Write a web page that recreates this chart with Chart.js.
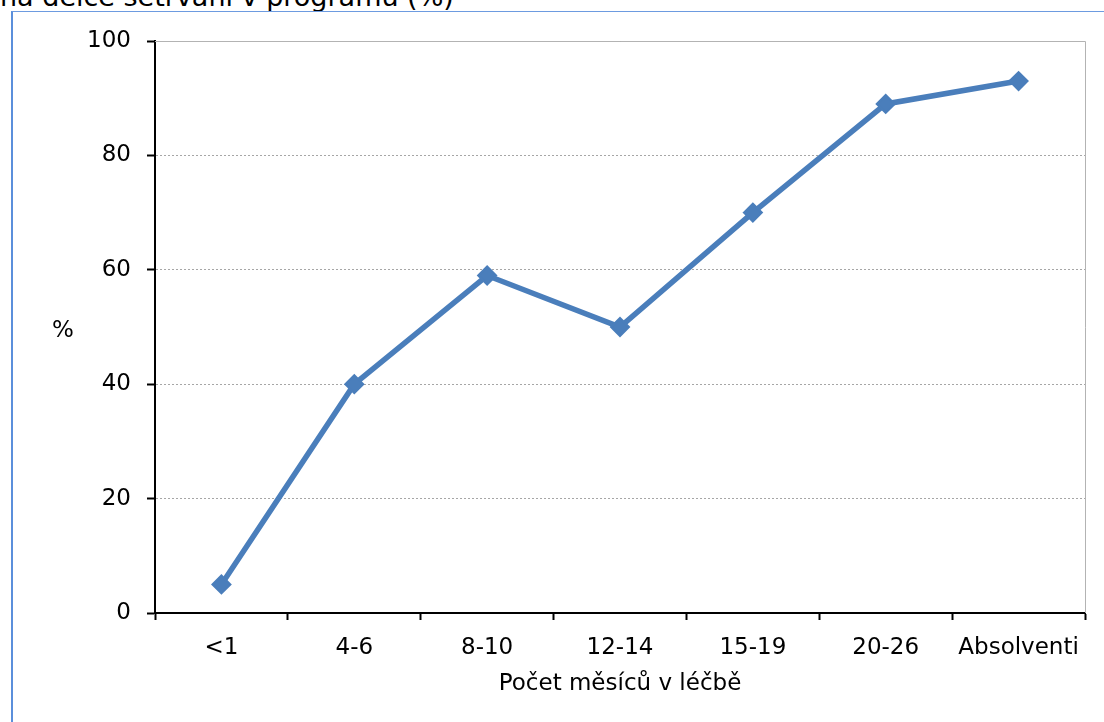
<!DOCTYPE html>
<html>
<head>
<meta charset="utf-8">
<script src="https://cdn.jsdelivr.net/npm/chart.js@4"></script>
<style>
  html, body { margin: 0; padding: 0; background: #fff; overflow: hidden; }
  #wrap { position: relative; width: 1104px; height: 722px; }
  #frame { position: absolute; left: 11px; top: 11px; right: 0; bottom: 0;
           border-left: 2px solid #5b8fdb; border-top: 1px solid #6d9be0; }
  #cut { position: absolute; left: 0; top: -19px; font: 27px 'DejaVu Sans', sans-serif;
         color: #000; white-space: nowrap; }
  canvas { position: absolute; left: 0; top: 0; }
</style>
</head>
<body>
<div id="wrap">
  <div id="cut">na délce setrvání v programu (%)</div>
  <div id="frame"></div>
  <canvas id="myChart" width="1104" height="722"></canvas>
</div>
<script>
const categories = ['<1', '4-6', '8-10', '12-14', '15-19', '20-26', 'Absolventi'];
const percentValues = [5, 40, 59, 50, 70, 89, 93];
const xTitle = 'Počet měsíců v léčbě';
const yTitle = '%';

const FONT = "'DejaVu Sans', Verdana, sans-serif";

// y title drawn horizontally + grey top/right border of the plot area
const extras = {
    id: 'extras',
    afterDraw(chart) {
        const { ctx, chartArea } = chart;
        ctx.save();
        ctx.strokeStyle = '#b3b3b3';
        ctx.lineWidth = 1;
        ctx.beginPath();
        ctx.moveTo(chartArea.left, chartArea.top + 0.5);
        ctx.lineTo(chartArea.right + 0.5, chartArea.top + 0.5);
        ctx.lineTo(chartArea.right + 0.5, chartArea.bottom);
        ctx.stroke();
        ctx.fillStyle = '#000';
        ctx.font = '23px ' + FONT;
        ctx.textAlign = 'center';
        ctx.textBaseline = 'middle';
        ctx.fillText(yTitle, 63, (chartArea.top + chartArea.bottom) / 2 + 4);
        ctx.restore();
    }
};

const ctx = document.getElementById('myChart').getContext('2d');

const chart = new Chart(ctx, {
    type: 'line',
    data: {
        labels: categories,
        datasets: [
            {
                data: percentValues,
                borderColor: '#4a7ebb',
                backgroundColor: '#4a7ebb',
                borderWidth: 5.5,
                pointStyle: 'rectRot',
                pointRadius: 9,
                pointBorderWidth: 2,
                tension: 0,
            },
        ],
    },
    options: {
        responsive: false,
        animation: false,
        layout: { padding: { left: 0, right: 19, top: 41, bottom: 0 } },
        plugins: {
            legend: { display: false },
            tooltip: { enabled: false },
        },
        scales: {
            x: {
                offset: true,
                grid: {
                    offset: true,
                    drawOnChartArea: false,
                    tickLength: 7,
                    tickColor: '#000',
                    tickWidth: 2,
                },
                border: { color: '#000', width: 2 },
                ticks: { color: '#000', font: { family: FONT, size: 23 }, padding: 14, maxRotation: 0, autoSkip: false },
                title: {
                    display: true,
                    text: xTitle,
                    color: '#000',
                    font: { family: FONT, size: 23 },
                    padding: { top: 0, bottom: 24 },
                },
                afterFit(scale) { scale.height = 109; },
            },
            y: {
                min: 0,
                max: 100,
                grid: {
                    color: '#a6a6a6',
                    tickColor: '#000',
                    tickLength: 8,
                    tickWidth: 2,
                    tickBorderDash: [],
                },
                border: { color: '#000', width: 2, dash: [2, 2] },
                ticks: { stepSize: 20, color: '#000', font: { family: FONT, size: 23 }, padding: 16 },
                afterFit(scale) { scale.width = 155; },
            },
        },
    },
    plugins: [extras],
});
</script>
</body>
</html>
